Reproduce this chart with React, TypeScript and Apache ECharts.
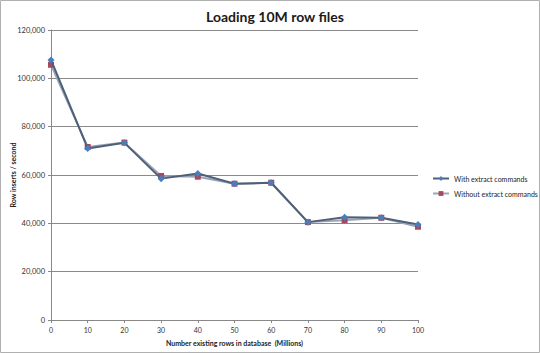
import React, { useEffect, useRef } from "react";
import * as echarts from "echarts";

const xValues = [0, 10, 20, 30, 40, 50, 60, 70, 80, 90, 100];
const withExtract = [107600, 71000, 73300, 58500, 60600, 56400, 56800, 40500, 42500, 42300, 39500];
const withoutExtract = [105600, 71600, 73400, 59600, 59300, 56400, 56800, 40500, 41300, 42300, 38600];
const seriesNames = ["With extract commands", "Without extract commands"];

export default function App() {
  const ref = useRef<HTMLDivElement>(null);
  useEffect(() => {
    if (!ref.current) return;
    const chart = echarts.init(ref.current, undefined, { renderer: "svg" });
    const font = "Lato, 'Open Sans', sans-serif";
    chart.setOption({
      animation: false,
      backgroundColor: "#ffffff",
      textStyle: { fontFamily: font },
      title: {
        text: "Loading 10M row files",
        left: 270,
        textAlign: "center",
        top: 4,
        textStyle: { fontSize: 14, fontWeight: "bold", color: "#1a1a1a", fontFamily: font },
      },
      graphic: [
        {
          type: "rect",
          shape: { x: 0.5, y: 0.5, width: 539, height: 352 },
          style: { fill: "none", stroke: "#b0b0b0", lineWidth: 1 },
          silent: true,
        },
      ],
      legend: {
        orient: "vertical",
        left: 432,
        top: 175,
        width: 108,
        padding: 0,
        itemWidth: 16,
        itemHeight: 6,
        itemGap: 8,
        textStyle: { fontSize: 7, color: "#222", fontFamily: font, overflow: "none", width: 100 },
        data: seriesNames,
      },
      grid: { left: 51, right: 122, top: 30, bottom: 33, containLabel: false, outerBoundsMode: "none" },
      xAxis: {
        type: "value",
        min: 0,
        max: 100,
        interval: 10,
        name: "Number existing rows in database  (Millions)",
        nameLocation: "middle",
        nameGap: 19,
        nameTextStyle: { fontSize: 7, fontWeight: "bold", color: "#222" },
        axisLine: { show: true, lineStyle: { color: "#888", width: 1 } },
        axisTick: { show: true, length: 3, lineStyle: { color: "#888" } },
        splitLine: { show: false },
        axisLabel: { fontSize: 7, color: "#333", margin: 6 },
      },
      yAxis: {
        type: "value",
        min: 0,
        max: 120000,
        interval: 20000,
        name: "Row inserts / second",
        nameLocation: "middle",
        nameGap: 35,
        nameMoveOverlap: false,
        nameTextStyle: { fontSize: 7, fontWeight: "bold", color: "#222" },
        axisLine: { show: true, lineStyle: { color: "#888", width: 1 } },
        axisTick: { show: true, length: 3, lineStyle: { color: "#888" } },
        splitLine: { show: true, lineStyle: { color: "#8a8a8a", width: 1 } },
        axisLabel: {
          fontSize: 7.5,
          color: "#333",
          margin: 6,
          formatter: (v: number) => v.toLocaleString("en-US"),
        },
      },
      series: [
        {
          name: seriesNames[1],
          type: "line",
          data: xValues.map((x, i) => [x, withoutExtract[i]]),
          symbol: "rect",
          symbolSize: 6,
          lineStyle: { color: "#9aa6b8", width: 2 },
          itemStyle: { color: "#a8485e" },
          z: 2,
        },
        {
          name: seriesNames[0],
          type: "line",
          data: xValues.map((x, i) => [x, withExtract[i]]),
          symbol: "diamond",
          symbolSize: 7,
          lineStyle: { color: "#4e5f78", width: 2 },
          itemStyle: { color: "#4a7ebb" },
          z: 3,
        },
      ],
    });
    return () => chart.dispose();
  }, []);
  return (
    <div
      ref={ref}
      style={{ position: "fixed", left: 0, top: 0, width: 540, height: 353 }}
    />
  );
}
